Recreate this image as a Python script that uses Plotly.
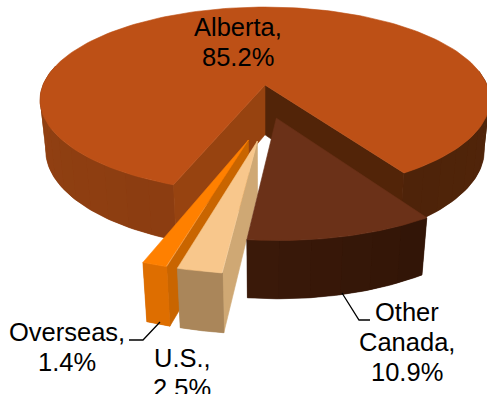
import numpy as np
import plotly.graph_objects as go

# Sources of supply, share of total (%)
categories = ["Alberta", "Other Canada", "U.S.", "Overseas"]
shares = [85.2, 10.9, 2.5, 1.4]
explode = [0.26, 0.09, 0.31, 0.31]

label_lines = [["Alberta,", "85.2%"], ["Other", "Canada,", "10.9%"], ["U.S.,", "2.5%"], ["Overseas,", "1.4%"]]
label_x = [238, 407, 182, 67]
label_y = [27, 312, 358, 332]
LINE_GAP = 30

top_colors = ["#BD5016", "#6B3118", "#F8C78C", "#FF8000"]
# Outer wall colours: (start of the visible arc, end of the visible arc)
wall_colors = {
    0: ((140, 61, 17), (146, 65, 18)),
    1: ((50, 21, 7), (58, 25, 9)),
    2: ((170, 134, 90), (166, 130, 86)),
    3: ((222, 110, 0), (205, 100, 0)),
}
ALBERTA_RIGHT_WALL = ((82, 38, 10), (78, 35, 9))
CUT_WALL_LEFT = "#974310"
CUT_WALL_RIGHT = "#522408"
US_SIDE = "#CFA874"
OVERSEAS_SIDE = "#C96500"

FIRST_ANGLE = 200.5

# Perspective camera: the pie lies in the (u, v) plane, z runs downward
CX, CY = 265.0, 85.0
AX, BY, HZ = 222.0, 90.5, 51.0
K_V, K_Z = 0.161, 0.025


def project(u, v, z):
    s = 1.0 / (1.0 - K_V * np.asarray(v, float) + K_Z * np.asarray(z, float))
    return CX + AX * np.asarray(u, float) * s, CY + (BY * np.asarray(v, float) + HZ * np.asarray(z, float)) * s


def polar(phi):
    rad = np.radians(phi)
    return np.sin(rad), -np.cos(rad)


fig = go.Figure()


def add_poly(x, y, color, width=0.6):
    fig.add_trace(go.Scatter(
        x=list(x), y=list(y), mode="lines", fill="toself", fillcolor=color,
        line=dict(color=color, width=width), hoverinfo="skip", showlegend=False,
    ))


def lerp_color(pair, t):
    a, b = pair
    c = [round(a[i] + (b[i] - a[i]) * t) for i in range(3)]
    return f"rgb({c[0]},{c[1]},{c[2]})"


# Slice angle ranges follow the shares, clockwise from the first angle
spans = np.array(shares) / sum(shares) * 360.0
starts = FIRST_ANGLE + np.concatenate([[0.0], np.cumsum(spans)[:-1]])
ends = starts + spans
mids = (starts + ends) / 2

# Shift everything so the apex of the largest slice sits at the camera origin
a_dir = polar(mids[0])
shift = (-explode[0] * a_dir[0], -explode[0] * a_dir[1])


def offset(i):
    d = polar(mids[i])
    return explode[i] * d[0] + shift[0], explode[i] * d[1] + shift[1]


def rim(i, phis):
    ou, ov = offset(i)
    su, sv = polar(np.asarray(phis, float))
    return su + ou, sv + ov


def outer_wall(i, phi_a, phi_b, colors, step=6.0):
    # A solid backing keeps the seams between shaded bands from showing
    u, v = rim(i, np.linspace(phi_a, phi_b, 60))
    x0, y0 = project(u, v, 0)
    x1, y1 = project(u, v, 1)
    add_poly(np.r_[x0, x1[::-1], x0[0]], np.r_[y0, y1[::-1], y0[0]], lerp_color(colors, 0.5))
    n = max(1, int(abs(phi_b - phi_a) / step))
    edges = np.linspace(phi_a, phi_b, n + 1)
    for j in range(n):
        u, v = rim(i, np.linspace(edges[j], edges[j + 1], 4))
        x0, y0 = project(u, v, 0)
        x1, y1 = project(u, v, 1)
        add_poly(np.r_[x0, x1[::-1], x0[0]], np.r_[y0, y1[::-1], y0[0]],
                 lerp_color(colors, j / max(1, n - 1)), width=0)


def radial_wall(i, phi, color):
    ou, ov = offset(i)
    u, v = rim(i, [phi])
    us = [ou, u[0], u[0], ou, ou]
    vs = [ov, v[0], v[0], ov, ov]
    zs = [0, 0, 1, 1, 0]
    x, y = project(us, vs, zs)
    add_poly(x, y, color)


def top_face(i):
    ou, ov = offset(i)
    u, v = rim(i, np.linspace(starts[i], ends[i], 180))
    x, y = project(np.r_[ou, u, ou], np.r_[ov, v, ov], 0)
    add_poly(x, y, top_colors[i])


# Largest slice: near walls, cut walls, then the top face
outer_wall(0, ends[0] - 360 - 66, ends[0] - 360, ALBERTA_RIGHT_WALL)
outer_wall(0, starts[0], starts[0] + 82, wall_colors[0])
radial_wall(0, ends[0], CUT_WALL_RIGHT)
radial_wall(0, starts[0], CUT_WALL_LEFT)
top_face(0)

# Exploded slices, back to front
radial_wall(3, starts[3], OVERSEAS_SIDE)
outer_wall(3, starts[3], ends[3], wall_colors[3])
top_face(3)

radial_wall(2, starts[2], US_SIDE)
outer_wall(2, starts[2], ends[2], wall_colors[2])
top_face(2)

outer_wall(1, starts[1], ends[1], wall_colors[1])
top_face(1)

# Leader lines
for lx, ly in [((342, 359, 370), (293, 320, 320)), ((129, 143, 160), (340, 340, 322))]:
    fig.add_trace(go.Scatter(x=list(lx), y=list(ly), mode="lines", line=dict(color="black", width=1.3),
                             hoverinfo="skip", showlegend=False))

# Data labels
annotations = []
for lines, lx, ly in zip(label_lines, label_x, label_y):
    for k, line in enumerate(lines):
        annotations.append(dict(x=lx, y=ly + k * LINE_GAP, text=line, showarrow=False, xanchor="center",
                                yanchor="middle", font=dict(family="Liberation Sans, Arial", size=25.5, color="black")))

fig.update_layout(
    width=487, height=394, margin=dict(l=0, r=0, t=0, b=0),
    paper_bgcolor="white", plot_bgcolor="white", showlegend=False, annotations=annotations,
    xaxis=dict(range=[0, 487], visible=False, fixedrange=True),
    yaxis=dict(range=[394, 0], visible=False, fixedrange=True),
)
fig.write_html("out.html", config={"displayModeBar": False})
